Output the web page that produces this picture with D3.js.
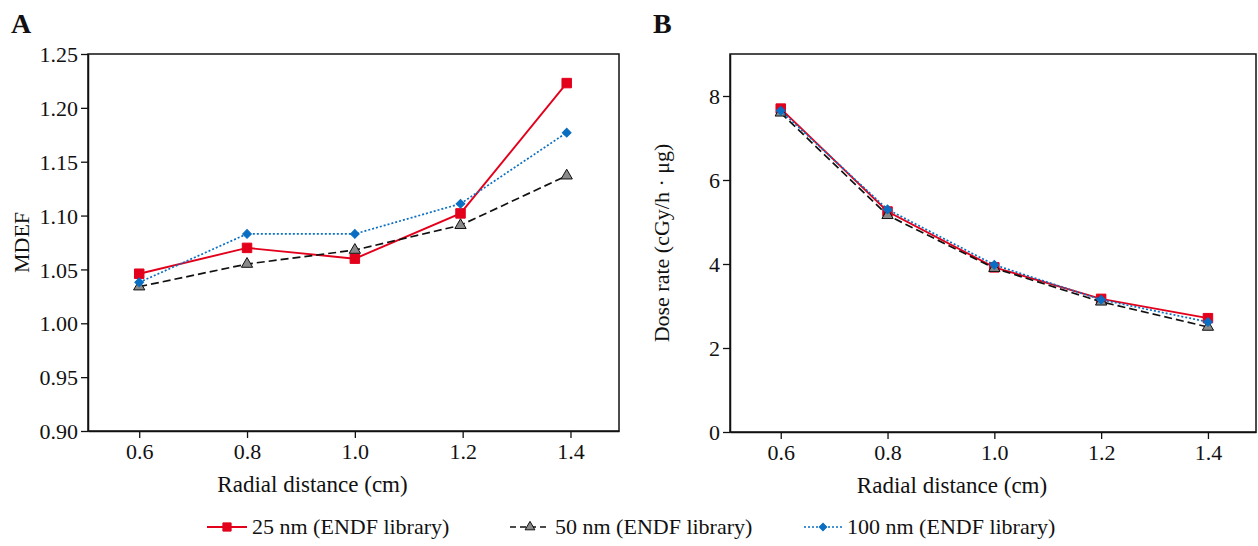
<!DOCTYPE html>
<html>
<head>
<meta charset="utf-8">
<script src="https://cdn.jsdelivr.net/npm/d3@7"></script>
<style>
  body { margin: 0; background: #fff; }
  text { font-family: "Liberation Serif", "DejaVu Serif", serif; fill: #111; }
</style>
</head>
<body>
<svg id="chart" width="1258" height="546"></svg>
<script>
// radial distances (cm)
const distA = [0.6, 0.8, 1.0, 1.196, 1.393];
const distB = [0.6, 0.8, 1.0, 1.2, 1.4];

// panel A: MDEF
const mdef25 = [1.046, 1.070, 1.060, 1.102, 1.223];
const mdef50 = [1.034, 1.055, 1.068, 1.091, 1.137];
const mdef100 = [1.038, 1.083, 1.083, 1.111, 1.177];

// panel B: dose rate (cGy/h·μg)
const dose25 = [7.70, 5.25, 3.92, 3.17, 2.71];
const dose50 = [7.60, 5.16, 3.90, 3.10, 2.50];
const dose100 = [7.65, 5.30, 3.98, 3.15, 2.62];

const xTicks = [0.6, 0.8, 1.0, 1.2, 1.4];
const yTicksA = [0.90, 0.95, 1.00, 1.05, 1.10, 1.15, 1.20, 1.25];
const yTicksB = [0, 2, 4, 6, 8];

const seriesNames = ["25 nm (ENDF library)", "50 nm (ENDF library)", "100 nm (ENDF library)"];

const styles = [
  {color: "#e3001b", dash: null, width: 1.9, sym: d3.symbolSquare, size: 90, rot: 0, fill: "#e3001b", stroke: "#e3001b"},
  {color: "#111", dash: "8,4", width: 1.7, sym: d3.symbolTriangle, size: 55, rot: 0, fill: "#8a8a8a", stroke: "#111"},
  {color: "#0a6fc2", dash: "2,2", width: 1.7, sym: d3.symbolSquare, size: 38, rot: 45, fill: "#0a6fc2", stroke: "#0a6fc2"}
];

const FS = "22px";
const svg = d3.select("#chart");

function panel(opt) {
  const {left, right, top, bottom} = opt;
  const x = d3.scaleLinear().domain([0.505, 1.49]).range([left, right]);
  const y = d3.scaleLinear().domain(opt.yDomain).range([bottom, top]);
  const g = svg.append("g");

  // frame
  g.append("rect")
    .attr("x", left).attr("y", top)
    .attr("width", right - left).attr("height", bottom - top)
    .attr("fill", "none").attr("stroke", "#111").attr("stroke-width", 1.5);

  const xAxis = g.append("g")
    .attr("transform", `translate(0,${bottom})`)
    .call(d3.axisBottom(x).tickValues(xTicks).tickFormat(d3.format(".1f")).tickSize(7).tickSizeOuter(0));
  const yAxis = g.append("g")
    .attr("transform", `translate(${left},0)`)
    .call(d3.axisLeft(y).tickValues(opt.yTicks).tickFormat(opt.yFormat).tickSize(7).tickSizeOuter(0));
  [xAxis, yAxis].forEach(a => {
    a.attr("font-size", null).attr("font-family", null);
    a.select(".domain").attr("stroke", "#111").attr("stroke-width", 1.5);
    a.selectAll(".tick line").attr("stroke", "#111").attr("stroke-width", 1.3);
    a.selectAll(".tick text").style("font-size", FS).attr("fill", "#111");
  });
  xAxis.selectAll(".tick text").attr("dy", "0.8em");
  yAxis.selectAll(".tick text").attr("dy", "0.35em");

  // series
  opt.series.forEach((vals, i) => {
    const st = styles[i];
    const pts = vals.map((v, j) => [opt.xs[j], v]);
    g.append("path")
      .datum(pts)
      .attr("fill", "none")
      .attr("stroke", st.color)
      .attr("stroke-width", st.width)
      .attr("stroke-dasharray", st.dash)
      .attr("d", d3.line().x(d => x(d[0])).y(d => y(d[1])));
    g.selectAll(null)
      .data(pts)
      .join("path")
        .attr("transform", d => `translate(${x(d[0])},${y(d[1])}) rotate(${st.rot})`)
        .attr("d", d3.symbol().type(st.sym).size(st.size))
        .attr("fill", st.fill)
        .attr("stroke", st.stroke)
        .attr("stroke-width", 1);
  });

  // titles (x title sits a little left of the plot centre, as in the original)
  g.append("text")
    .attr("x", (left + right) / 2 - 41).attr("y", bottom + 61)
    .attr("text-anchor", "middle")
    .style("font-size", "23px")
    .text("Radial distance (cm)");
  g.append("text")
    .attr("transform", `translate(${opt.yTitleX},${(top + bottom) / 2}) rotate(-90)`)
    .attr("text-anchor", "middle")
    .style("font-size", FS)
    .text(opt.yTitle);
  g.append("text")
    .attr("x", opt.labelX).attr("y", 33)
    .style("font-size", "28px").style("font-weight", "bold")
    .text(opt.label);
}

panel({
  left: 88, right: 619, top: 54, bottom: 431,
  yDomain: [0.90, 1.25], yTicks: yTicksA, yFormat: d3.format(".2f"),
  xs: distA, series: [mdef25, mdef50, mdef100],
  yTitle: "MDEF", yTitleX: 29, label: "A", labelX: 11
});

panel({
  left: 730, right: 1256, top: 54, bottom: 432,
  yDomain: [0, 9], yTicks: yTicksB, yFormat: d3.format("d"),
  xs: distB, series: [dose25, dose50, dose100],
  yTitle: "Dose rate (cGy/h · μg)", yTitleX: 669, label: "B", labelX: 653
});

// legend
const legendX = [207, 510, 804];
const legend = svg.append("g");
seriesNames.forEach((name, i) => {
  const st = styles[i];
  const lx = legendX[i], ly = 527;
  const w = [40, 40, 38][i];
  legend.append("line")
    .attr("x1", lx).attr("x2", lx + w).attr("y1", ly).attr("y2", ly)
    .attr("stroke", st.color).attr("stroke-width", st.width)
    .attr("stroke-dasharray", i === 1 ? "6,4" : st.dash);
  legend.append("path")
    .attr("transform", `translate(${lx + w / 2},${ly}) rotate(${st.rot})`)
    .attr("d", d3.symbol().type(st.sym).size(st.size * 0.75))
    .attr("fill", st.fill).attr("stroke", st.stroke).attr("stroke-width", 1);
  legend.append("text")
    .attr("x", lx + w + 5).attr("y", ly + 7)
    .style("font-size", FS)
    .text(name);
});
</script>
</body>
</html>
